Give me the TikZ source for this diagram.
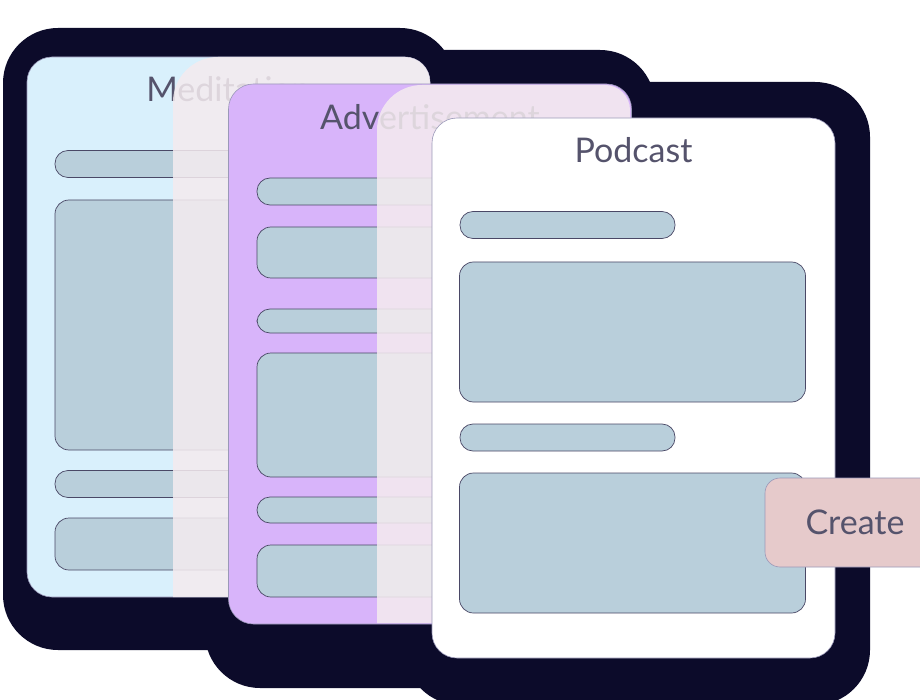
\documentclass[tikz,border=0pt]{standalone}
\usepackage{fontspec}
\setmainfont{Lato}
\usetikzlibrary{positioning,calc}
\definecolor{medblue}{HTML}{D9F0FC}
\definecolor{advpurple}{HTML}{D8B4FA}
\definecolor{barblue}{HTML}{B9CFDB}
\definecolor{barline}{HTML}{4A4866}
\definecolor{edgegray}{HTML}{9A98B8}
\definecolor{createpink}{HTML}{E6CACB}
\definecolor{shadowcol}{HTML}{0C0B2A}
\definecolor{glasscol}{HTML}{F4EBEF}
\definecolor{titlegray}{HTML}{55536C}

\begin{document}
\begin{tikzpicture}[
  x=1pt,y=-1pt,
  card/.style={draw=edgegray,line width=0.6pt,rounded corners=25pt,minimum width=403pt,minimum height=540pt,inner sep=0pt},
  pill/.style={draw=barline,line width=0.7pt,fill=barblue,rounded corners=13pt,minimum width=215pt,minimum height=27pt,inner sep=0pt},
  panel/.style={draw=barline,line width=0.7pt,fill=barblue,rounded corners=14pt,minimum width=346pt,inner sep=0pt},
  ttl/.style={text=titlegray,font=\fontsize{34}{40}\selectfont,inner sep=0pt},
  drop/.style={fill=shadowcol,rounded corners=55pt},
  glass/.style={fill=glasscol,fill opacity=0.86,rounded corners=45pt}
]
\useasboundingbox (0,0) rectangle (920,700);
\fill[white] (0,0) rectangle (920,700);

% shadows behind the stack
\fill[drop] (3,28) rectangle (455,650);
\fill[drop] (205,50) rectangle (655,688);
\fill[drop] (405,82) rectangle (870,705);

% card 1
\node[card,fill=medblue] (med) at (228.5,327) {};
\node[ttl] (medT) at (228.5,89) {Meditation};
\node[pill]  (medP1) at (162.5,164) {};
\node[panel,minimum height=250pt] (medB1) at (228,325) {};
\node[pill]  (medP2) at (162.5,484) {};
\node[panel,minimum height=52pt]  (medB2) at (228,544) {};

\begin{scope}
  \clip[rounded corners=25pt] (27,57) rectangle (430,597);
  \fill[glass] (173,57) rectangle (900,720);
\end{scope}

% card 2
\node[card,fill=advpurple] (adv) at (430,354) {};
\node[ttl] (advT) at (430,117) {Advertisement};
\node[pill,minimum height=27pt] (advP1) at (364.5,191.5) {};
\node[panel,minimum height=51pt]  (advB1) at (430,252.5) {};
\node[pill,minimum height=24pt] (advP2) at (364.5,321) {};
\node[panel,minimum height=124pt] (advB2) at (430,415) {};
\node[pill,minimum height=26pt] (advP3) at (364.5,510) {};
\node[panel,minimum height=52pt]  (advB3) at (430,571) {};

\begin{scope}
  \clip[rounded corners=25pt] (230,85) rectangle (630,623);
  \fill[glass] (377,85) rectangle (1000,720);
\end{scope}

% card 3
\node[card,fill=white] (pod) at (633.5,388) {};
\node[ttl] (podT) at (633.5,150) {Podcast};
\node[pill]  (podP1) at (567.5,225) {};
\node[panel,minimum height=140pt] (podB1) at (632.5,332) {};
\node[pill]  (podP2) at (567.5,437.5) {};
\node[panel,minimum height=140pt] (podB2) at (632.5,543) {};

% button
\node[draw=edgegray,line width=0.6pt,fill=createpink,rounded corners=15pt,minimum width=180pt,minimum height=89pt,inner sep=0pt,
      text=titlegray,font=\fontsize{34}{40}\selectfont] (create) at (855,522.5) {Create};
\end{tikzpicture}
\end{document}
